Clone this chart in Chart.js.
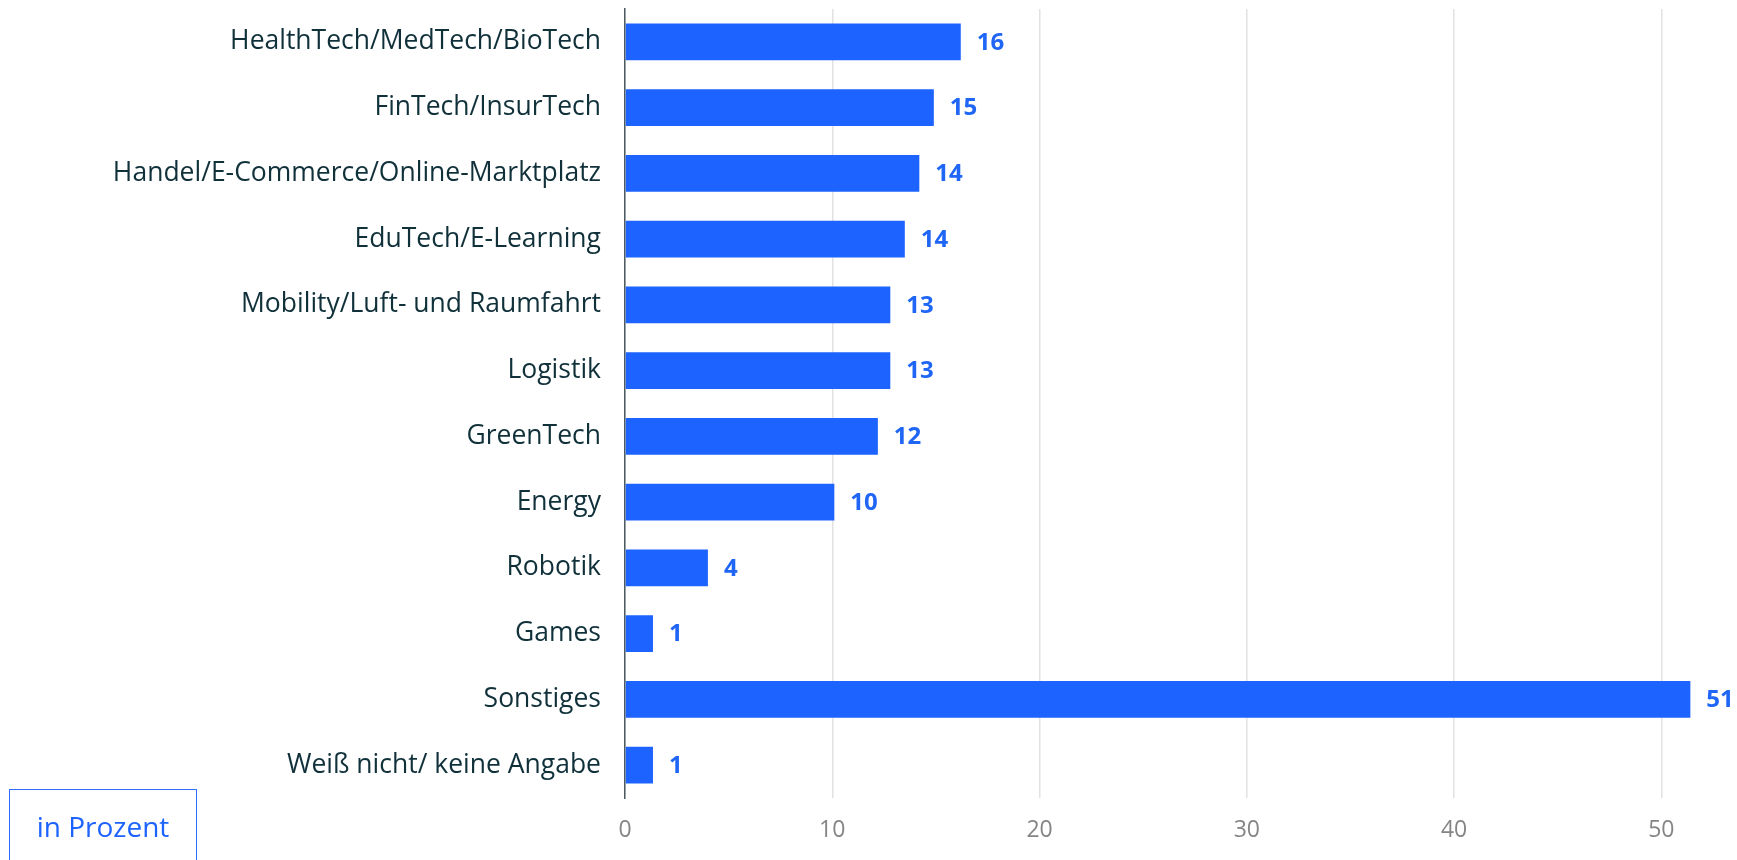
<!DOCTYPE html>
<html>
<head>
<meta charset="utf-8">
<script src="https://cdn.jsdelivr.net/npm/chart.js@4/dist/chart.umd.min.js"></script>
<style>
  html, body { margin: 0; padding: 0; background: #ffffff; overflow: hidden; }
  #wrap { position: relative; width: 1737px; height: 860px; }
  #chart { position: absolute; left: 0; top: 0; }
  #unit {
    position: absolute; left: 9px; top: 789px; width: 188px; height: 90px;
    border: 1.5px solid #2f6fff; box-sizing: border-box;
    font-family: "Open Sans", Lato, sans-serif; font-size: 28px; color: #1d63ff;
    text-align: center; padding-top: 17px;
  }
</style>
</head>
<body>
<div id="wrap">
  <canvas id="chart" width="1737" height="860"></canvas>
  <div id="unit">in Prozent</div>
</div>
<script>
const categories = [
  "HealthTech/MedTech/BioTech",
  "FinTech/InsurTech",
  "Handel/E-Commerce/Online-Marktplatz",
  "EduTech/E-Learning",
  "Mobility/Luft- und Raumfahrt",
  "Logistik",
  "GreenTech",
  "Energy",
  "Robotik",
  "Games",
  "Sonstiges",
  "Weiß nicht/ keine Angabe"
];
const values = [16.2, 14.9, 14.2, 13.5, 12.8, 12.8, 12.2, 10.1, 4.0, 1.35, 51.4, 1.35];
const valueLabels = ["16", "15", "14", "14", "13", "13", "12", "10", "4", "1", "51", "1"];
const xTicks = [0, 10, 20, 30, 40, 50];

const BAR_COLOR = "#1d63ff";
const LABEL_COLOR = "#1f66f7";
const FONT = "'Open Sans', Lato, sans-serif";

const valueLabelPlugin = {
  id: "valueLabels",
  afterDatasetsDraw(chart) {
    const ctx = chart.ctx;
    const meta = chart.getDatasetMeta(0);
    ctx.save();
    ctx.font = "bold 24px " + FONT;
    ctx.fillStyle = LABEL_COLOR;
    ctx.textAlign = "left";
    ctx.textBaseline = "middle";
    meta.data.forEach((bar, i) => {
      ctx.fillText(valueLabels[i], bar.x + 16, bar.y + 1);
    });
    ctx.restore();
  }
};

new Chart(document.getElementById("chart"), {
  type: "bar",
  data: {
    labels: categories,
    datasets: [{
      data: values,
      backgroundColor: BAR_COLOR,
      borderWidth: 0,
      barPercentage: 0.558,
      categoryPercentage: 1.0
    }]
  },
  options: {
    indexAxis: "y",
    responsive: false,
    animation: false,
    devicePixelRatio: 1,
    layout: { padding: { top: 9, left: 0, right: 0, bottom: 0 } },
    plugins: {
      legend: { display: false },
      tooltip: { enabled: false }
    },
    scales: {
      x: {
        min: 0,
        max: 53.65,
        afterBuildTicks: (scale) => {
          scale.ticks = xTicks.map(v => ({ value: v }));
        },
        afterFit: (scale) => {
          scale.height = 62;
          scale.paddingLeft = 0;
          scale.paddingRight = 0;
        },
        grid: {
          color: "#e2e2e2",
          lineWidth: 1.5,
          drawTicks: false,
          drawOnChartArea: true
        },
        border: { display: false },
        ticks: {
          padding: 19,
          color: "#858585",
          font: { family: FONT, size: 23 }
        }
      },
      y: {
        afterFit: (scale) => {
          scale.width = 625;
          scale.paddingTop = 0;
          scale.paddingBottom = 0;
        },
        grid: { display: false, drawTicks: false },
        border: { display: true, color: "#4d5b61", width: 1.5 },
        ticks: {
          padding: 24,
          color: "#10303a",
          font: { family: FONT, size: 26.5 }
        }
      }
    }
  },
  plugins: [valueLabelPlugin]
});
</script>
</body>
</html>
